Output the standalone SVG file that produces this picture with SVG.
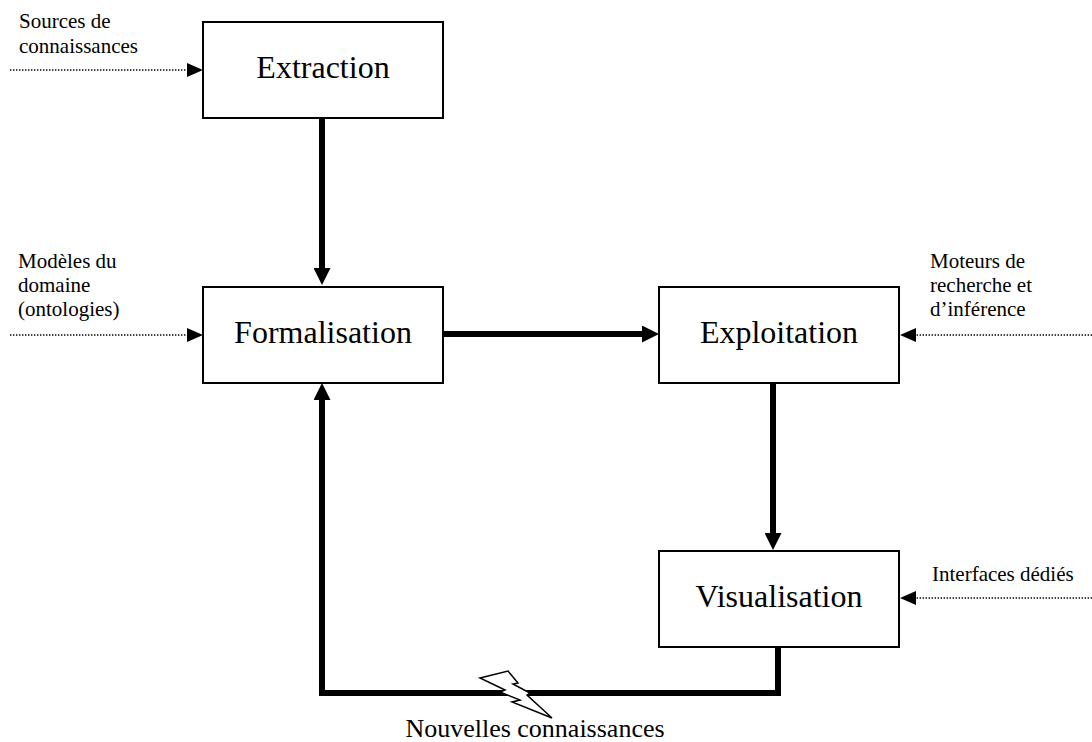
<svg xmlns="http://www.w3.org/2000/svg" width="1092" height="742" viewBox="0 0 1092 742">
<defs>
<style>
.box{fill:#fff;stroke:#000;stroke-width:2}
text{fill:#000;font-family:'Liberation Serif','Times New Roman',serif}
.lbl{font-size:32px;text-anchor:middle}
.side{font-size:21px}
.thick{fill:none;stroke:#000;stroke-width:6}
.dot{fill:none;stroke:#000;stroke-width:1.4;stroke-dasharray:1.4 1.6}
</style>
<marker id="big" markerUnits="userSpaceOnUse" markerWidth="17" markerHeight="17" refX="7" refY="8.5" orient="auto">
<path d="M0,0 L17,8.5 L0,17 z" fill="#000"/>
</marker>
<marker id="small" markerUnits="userSpaceOnUse" markerWidth="16" markerHeight="14" refX="5" refY="7" orient="auto">
<path d="M0,0 L16,7 L0,14 z" fill="#000"/>
</marker>
</defs>
<rect width="1092" height="742" fill="#fff"/>
<g id="connectors">
<path class="thick" d="M322,118 V275" marker-end="url(#big)"/>
<path class="thick" d="M443,334 H649" marker-end="url(#big)"/>
<path class="thick" d="M773,383 V540" marker-end="url(#big)"/>
<path class="thick" d="M778,647 V693 H322 V393" marker-end="url(#big)"/>
<path class="dot" d="M10,70 H192" marker-end="url(#small)"/>
<path class="dot" d="M10,335 H192" marker-end="url(#small)"/>
<path class="dot" d="M1092,335 H911" marker-end="url(#small)"/>
<path class="dot" d="M1092,598 H911" marker-end="url(#small)"/>
<polygon points="480,678 508,671 518,683 513,684 530,693 527,695 552,718 512,702 520,700 500,692 505,690" fill="#fff" stroke="#000" stroke-width="1.5" stroke-linejoin="miter"/>
</g>
<g id="extraction">
<rect class="box" x="203" y="22" width="240" height="96"/>
<text class="lbl" x="323" y="78">Extraction</text>
</g>
<g id="formalisation">
<rect class="box" x="203" y="287" width="240" height="96"/>
<text class="lbl" x="323" y="343">Formalisation</text>
</g>
<g id="exploitation">
<rect class="box" x="659" y="287" width="240" height="96"/>
<text class="lbl" x="779" y="343">Exploitation</text>
</g>
<g id="visualisation">
<rect class="box" x="659" y="551" width="240" height="96"/>
<text class="lbl" x="779" y="607">Visualisation</text>
</g>
<g id="sources">
<text class="side" x="19" y="28">Sources de</text>
<text class="side" x="19" y="53">connaissances</text>
</g>
<g id="modeles">
<text class="side" x="18" y="268">Modèles du</text>
<text class="side" x="18" y="292">domaine</text>
<text class="side" x="18" y="316">(ontologies)</text>
</g>
<g id="moteurs">
<text class="side" x="930" y="268">Moteurs de</text>
<text class="side" x="930" y="292">recherche et</text>
<text class="side" x="930" y="316">d’inférence</text>
</g>
<g id="interfaces">
<text class="side" x="932" y="581">Interfaces dédiés</text>
</g>
<g id="nouvelles">
<text x="535" y="737" font-size="26" text-anchor="middle">Nouvelles connaissances</text>
</g>
</svg>
